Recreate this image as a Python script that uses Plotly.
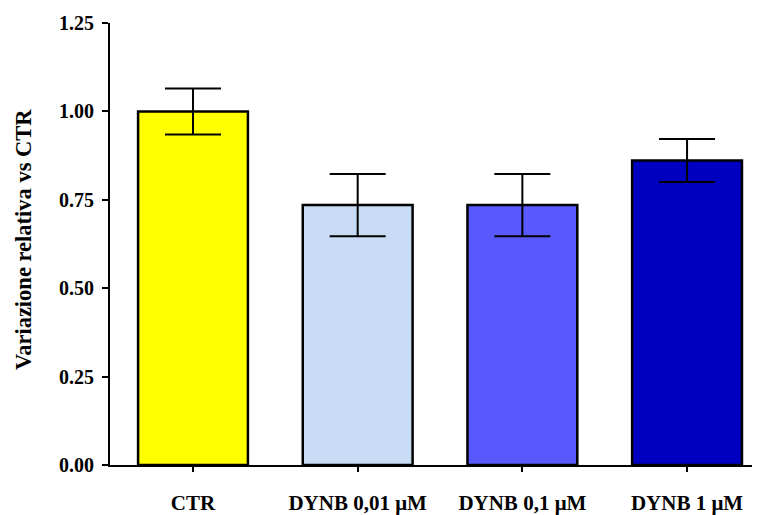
import plotly.graph_objects as go

categories = ["CTR", "DYNB 0,01 μM", "DYNB 0,1 μM", "DYNB 1 μM"]
values = [1.00, 0.735, 0.735, 0.861]
errors = [0.065, 0.088, 0.088, 0.061]
colors = ["#FFFF00", "#C8DCF6", "#5858FC", "#0000C0"]
y_ticks = [0, 0.25, 0.5, 0.75, 1.0, 1.25]
y_tick_labels = ["0.00", "0.25", "0.50", "0.75", "1.00", "1.25"]
y_title = "Variazione relativa vs CTR"

font_family = "Liberation Serif, Times New Roman, serif"

fig = go.Figure()
fig.add_trace(go.Bar(
    x=list(range(len(categories))),
    y=values,
    width=0.667,
    marker=dict(color=colors, line=dict(color="black", width=2.5)),
    error_y=dict(type="data", array=errors, visible=True,
                 color="black", thickness=2, width=28),
))

fig.update_layout(
    width=752, height=507,
    margin=dict(l=102, r=0, t=15, b=50, autoexpand=False),
    plot_bgcolor="white", paper_bgcolor="white",
    showlegend=False,
    font=dict(family=font_family, size=20, color="black"),
    xaxis=dict(
        range=[-0.504, 3.443],
        tickmode="array",
        tickvals=list(range(len(categories))),
        ticktext=categories,
        showline=True, linecolor="black", linewidth=2,
        ticks="outside", ticklen=5, tickwidth=2, tickcolor="black",
        ticklabelstandoff=13,
        tickfont=dict(family=font_family, size=21, color="black", weight="bold"),
        showgrid=False, zeroline=False,
    ),
    yaxis=dict(
        range=[0, 1.25],
        tickmode="array",
        tickvals=y_ticks,
        ticktext=y_tick_labels,
        showline=True, linecolor="black", linewidth=2,
        ticks="outside", ticklen=6, tickwidth=2, tickcolor="black",
        ticklabelstandoff=4,
        tickfont=dict(family=font_family, size=20, color="black", weight="bold"),
        showgrid=False, zeroline=False,
    ),
    annotations=[dict(
        text=y_title, xref="paper", yref="paper",
        x=-0.134, y=0.511, xanchor="center", yanchor="middle",
        textangle=-90, showarrow=False,
        font=dict(family=font_family, size=22.5, color="black", weight="bold"),
    )],
)

fig.write_html("out.html")
